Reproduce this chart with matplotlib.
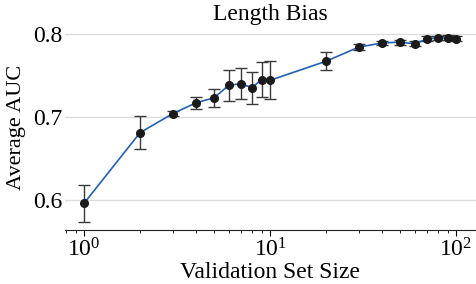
import matplotlib
matplotlib.use("Agg")
import matplotlib.pyplot as plt

sizes = [1, 2, 3, 4, 5, 6, 7, 8, 9, 10, 20, 30, 40, 50, 60, 70, 80, 90, 100]
auc = [0.596, 0.681, 0.704, 0.717, 0.723, 0.738, 0.740, 0.735, 0.745, 0.744,
       0.767, 0.784, 0.789, 0.790, 0.788, 0.794, 0.795, 0.795, 0.794]
err = [0.022, 0.020, 0.003, 0.007, 0.011, 0.019, 0.019, 0.019, 0.021, 0.023,
       0.011, 0.004, 0.002, 0.003, 0.003, 0.003, 0.002, 0.003, 0.003]
yticks = [0.6, 0.7, 0.8]

plt.rcParams['font.family'] = ['Liberation Serif', 'DejaVu Serif']
plt.rcParams['mathtext.fontset'] = 'stix'

fig = plt.figure(figsize=(4.76, 2.84), dpi=100)
ax = fig.add_axes([65/476, 1-230/284, 411/476, 205/284])

ax.errorbar(sizes, auc, yerr=err, fmt='none', ecolor='#3a3a3a', elinewidth=1.0,
            capsize=4, capthick=1.0, zorder=2)
ax.plot(sizes, auc, color='#2060b8', lw=1.2, zorder=3)
ax.plot(sizes, auc, 'o', color='#1a1a1a', ms=5.5, zorder=4)

ax.set_xscale('log')
ax.set_xlim(0.79, 128)
ax.set_ylim(0.5639, 0.8106)
ax.set_yticks(yticks)
ax.set_yticklabels([f"{v:.1f}" for v in yticks])
ax.grid(axis='y', color='#dddddd', lw=1)
ax.set_axisbelow(True)
for s in ['left', 'right', 'top']:
    ax.spines[s].set_visible(False)
ax.spines['bottom'].set_color('#222222')
ax.tick_params(axis='y', length=0, labelsize=17, pad=2)
ax.tick_params(axis='x', which='major', labelsize=17, length=4, direction='out', pad=2)
ax.tick_params(axis='x', which='minor', length=2)
ax.set_xlabel('Validation Set Size', fontsize=17, labelpad=0)
ax.set_ylabel('Average AUC', fontsize=16, labelpad=5)
ax.set_title('Length Bias', fontsize=17, pad=3)

fig.savefig('out.png', dpi=100)
